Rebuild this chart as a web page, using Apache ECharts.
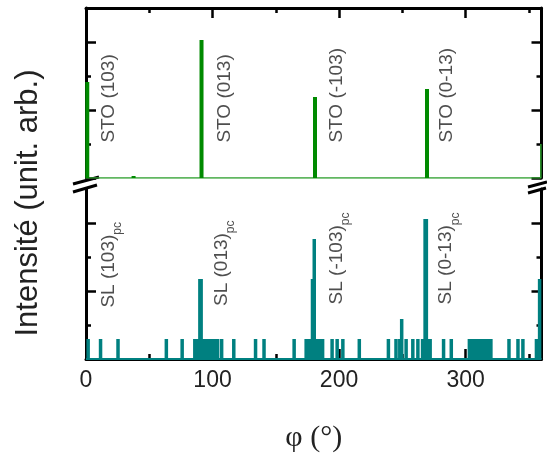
<!DOCTYPE html>
<html><head><meta charset="utf-8">
<script src="https://cdn.jsdelivr.net/npm/echarts@6/dist/echarts.min.js"></script>
<style>html,body{margin:0;padding:0;background:#fff}#c{width:547px;height:459px}</style>
</head><body><div id="c"></div>
<script>
// ---- data ----
const xMajorTicks = [0, 100, 200, 300];
const xMinorTicks = [50, 150, 250, 350];
const yMajorTicks = [0, 3.4, 6.8];
const yMinorTicks = [1.7, 5.1];
const xTickLabels = ['0', '100', '200', '300'];

// STO (substrate) peaks: [phi, intensity]
const stoPeaks = [[1, 4.8], [37.6, 0.1], [91.3, 6.9], [181, 4.05], [269.5, 4.45]];
const stoBaseline = [[0, 0], [359.5, 0], [359.5, 1.7]];
const stoLabelText = ['STO (103)', 'STO (013)', 'STO (-103)', 'STO (0-13)'];

// SL (film) counts: [phi, counts]
const slCounts = [
  [1.7,1],[11.5,1],[25.3,1],[63.5,1],[76,1],
  [86,1],[87,1],[88,1],[89,1],[92,1],[93,1],[94,1],[95,1],[96,1],[97,1],[98,1],[99,1],[100,1],[101,1],[102,1],[103,1],[104,1],
  [90,4],[91,4],
  [107.2,1],[116.8,1],[134,1],[140.7,1],[164.5,1],
  [174,1],[175,1],[176,1],[177,1],[178,1],[182,1],[183,1],[184,1],[185,1],[186,1],[187,1],
  [179,4],[180.4,6],
  [194.5,1],[198.5,1],[203,1],[216,1],[239,1],[245,1],[248,1],[249.5,2],[253,1],[258.3,1],[262.3,1],
  [266,1],[267,1],[270,1],[271,1],[272,1],
  [268,7],[269,7],
  [282.6,1],[288.7,1],
  [303,1],[304,1],[305,1],[306,1],[307,1],[308,1],[309,1],[310,1],[311,1],[312,1],[313,1],[314,1],[315,1],[316,1],[317,1],[318,1],[319,1],[320,1],
  [334.3,1],[341.4,1],[345.3,1],[356,1],[358.5,4]
];
const slBaseline = [[0, 0], [360, 0]];
const slLabelText = ['SL (103)', 'SL (013)', 'SL (-103)', 'SL (0-13)'];

// label anchor points (data coordinates)
const stoLabelAt = [[18.3, 1.77], [109.5, 1.77], [197.8, 1.77], [285.4, 1.77]];
const slLabelAt = [[17.8, 2.57], [107.1, 2.65], [197.8, 2.73], [284.7, 2.73]];

// ---- chart ----
const FONT = 'Liberation Sans';
const chart = echarts.init(document.getElementById('c'));

function xAx(gridIndex, position, values, len, showLine, extra) {
  return Object.assign({
    type: 'value', gridIndex, position, min: 0, max: 360, interval: 50,
    axisLine: { show: showLine, onZero: false, lineStyle: { color: '#000', width: 3 } },
    axisTick: { show: true, inside: true, length: len, customValues: values, lineStyle: { color: '#000', width: 2.5 } },
    axisLabel: { show: false }, splitLine: { show: false }
  }, extra || {});
}
function yAx(gridIndex, position, values, len, showLine) {
  return {
    type: 'value', gridIndex, position, min: 0, max: 8.5, interval: 1.7,
    axisLine: { show: showLine, onZero: false, lineStyle: { color: '#000', width: 3 } },
    axisTick: { show: true, inside: true, length: len, customValues: values, lineStyle: { color: '#000', width: 2.5 } },
    axisLabel: { show: false }, splitLine: { show: false }
  };
}

const xAxes = [
  xAx(0, 'top', xMajorTicks, 10, true),
  xAx(0, 'top', xMinorTicks, 5, false),
  xAx(1, 'bottom', xMajorTicks, 10, true, {
    axisLabel: {
      show: true, customValues: xMajorTicks, margin: 10,
      fontSize: 23, fontFamily: FONT, color: '#222',
      formatter: v => { const i = xMajorTicks.indexOf(v); return i >= 0 ? xTickLabels[i] : ''; }
    },
    name: 'φ (°)', nameLocation: 'middle', nameGap: 64,
    nameTextStyle: { fontSize: 30, fontFamily: 'Liberation Serif', color: '#222' }
  }),
  xAx(1, 'bottom', xMinorTicks, 5, false)
];
const yAxes = [
  yAx(0, 'left', yMajorTicks, 10, true),
  yAx(0, 'left', yMinorTicks, 5, false),
  yAx(0, 'right', yMajorTicks, 10, true),
  yAx(0, 'right', yMinorTicks, 5, false),
  yAx(1, 'left', yMajorTicks, 10, true),
  yAx(1, 'left', yMinorTicks, 5, false),
  yAx(1, 'right', yMajorTicks, 10, true),
  yAx(1, 'right', yMinorTicks, 5, false)
];

const labelBase = { show: true, position: 'inside', rotate: 90, align: 'left', verticalAlign: 'middle', fontFamily: FONT, color: '#222' };

chart.setOption({
  animation: false,
  backgroundColor: '#fff',
  grid: [
    { left: 86, right: 5.5, top: 8, height: 170 },
    { left: 86, right: 5.5, top: 189, height: 170 }
  ],
  xAxis: xAxes,
  yAxis: yAxes,
  graphic: [
    { type: 'text', x: 28, y: 203, rotation: Math.PI / 2,
      style: { text: 'Intensité (unit. arb.)', fontSize: 31, fontFamily: FONT, fill: '#222', align: 'center', verticalAlign: 'middle' } },
    { type: 'line', shape: { x1: 73, y1: 184, x2: 99, y2: 177 }, style: { stroke: '#000', lineWidth: 3 } },
    { type: 'line', shape: { x1: 73, y1: 192, x2: 97, y2: 185 }, style: { stroke: '#000', lineWidth: 3 } },
    { type: 'line', shape: { x1: 528, y1: 187, x2: 547, y2: 182 }, style: { stroke: '#000', lineWidth: 3 } },
    { type: 'line', shape: { x1: 528, y1: 193, x2: 546, y2: 188 }, style: { stroke: '#000', lineWidth: 3 } }
  ],
  series: [
    { type: 'line', xAxisIndex: 0, yAxisIndex: 0, data: stoBaseline, symbol: 'none',
      lineStyle: { color: '#2ea02e', width: 1.5 }, z: 3 },
    { type: 'bar', xAxisIndex: 0, yAxisIndex: 0, data: stoPeaks, barWidth: 4,
      itemStyle: { color: '#008a00' }, z: 4 },
    { type: 'scatter', xAxisIndex: 0, yAxisIndex: 0, symbolSize: 1, itemStyle: { color: 'rgba(0,0,0,0)' },
      data: stoLabelAt.map((p, i) => ({ value: p, name: stoLabelText[i] })),
      label: Object.assign({}, labelBase, { fontSize: 19, formatter: '{b}' }), z: 5 },
    { type: 'line', xAxisIndex: 2, yAxisIndex: 4, data: slBaseline, symbol: 'none',
      lineStyle: { color: '#008080', width: 2 }, z: 3 },
    { type: 'bar', xAxisIndex: 2, yAxisIndex: 4, data: slCounts, barWidth: 3.5,
      itemStyle: { color: '#008080' }, z: 4 },
    { type: 'scatter', xAxisIndex: 2, yAxisIndex: 4, symbolSize: 1, itemStyle: { color: 'rgba(0,0,0,0)' },
      data: slLabelAt.map((p, i) => ({ value: p, name: slLabelText[i] })),
      label: Object.assign({}, labelBase, {
        formatter: p => '{a|' + p.name + '}{b|pc}',
        rich: {
          a: { fontSize: 19, lineHeight: 30, fontFamily: FONT, color: '#222' },
          b: { fontSize: 12, lineHeight: 12, verticalAlign: 'bottom', fontFamily: FONT, color: '#222' }
        }
      }), z: 5 }
  ]
});
</script></body></html>
